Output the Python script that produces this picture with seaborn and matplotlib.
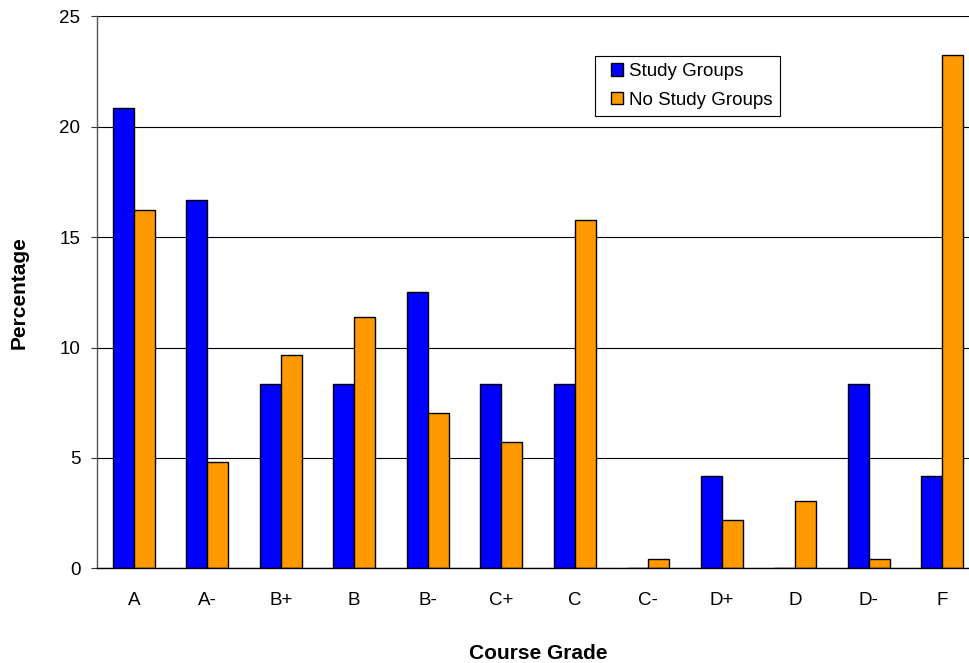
import pandas as pd
import matplotlib
matplotlib.use("Agg")
import matplotlib.pyplot as plt
import matplotlib.patches as mpatches
from matplotlib.legend_handler import HandlerPatch
import seaborn as sns

# values
grades = ["A", "A-", "B+", "B", "B-", "C+", "C", "C-", "D+", "D", "D-", "F"]
study_groups = [20.83, 16.67, 8.33, 8.33, 12.5, 8.33, 8.33, 0.0, 4.17, 0.0, 8.33, 4.17]
no_study_groups = [16.24, 4.82, 9.64, 11.39, 7.02, 5.7, 15.77, 0.42, 2.17, 3.05, 0.42, 23.23]
series_names = ["Study Groups", "No Study Groups"]
colors = ["#0000FF", "#FF9900"]
y_ticks = [0, 5, 10, 15, 20, 25]

# long form table for seaborn
df = pd.DataFrame({
    "grade": grades * 2,
    "pct": study_groups + no_study_groups,
    "group": [series_names[0]] * len(grades) + [series_names[1]] * len(grades),
})

sns.set_theme(style="white")
plt.rcParams["font.family"] = ["Liberation Sans", "DejaVu Sans"]
plt.rcParams["text.color"] = "black"
plt.rcParams["axes.labelcolor"] = "black"
plt.rcParams["xtick.color"] = "black"
plt.rcParams["ytick.color"] = "black"


def square_right(legend, orig_handle, xdescent, ydescent, width, height, fontsize):
    # small square pushed to the right side of the handle box (extra left padding)
    return mpatches.Rectangle((width - height - xdescent, -ydescent), height, height)


fig = plt.figure(figsize=(9.69, 6.63), dpi=100)
ax = fig.add_axes([0.1001, 0.1428, 0.9102, 0.8326])

sns.barplot(data=df, x="grade", y="pct", hue="group", order=grades,
            hue_order=series_names, palette=colors, saturation=1,
            width=0.57, edgecolor="black", linewidth=1.0, ax=ax)

ax.set_ylim(0, 25)
ax.set_xlim(-0.5, len(grades) - 0.5)
ax.set_yticks(y_ticks)
ax.set_yticklabels([str(t) for t in y_ticks], fontsize=13.5)
ax.set_xticks(range(len(grades)))
ax.set_xticklabels(grades, fontsize=13.5)
ax.set_xticks([i - 0.5 for i in range(len(grades) + 1)], minor=True)
ax.tick_params(axis="x", which="major", length=0, pad=17)
ax.tick_params(axis="x", which="minor", length=4.3, width=0.8, color="black", direction="out")
ax.tick_params(axis="y", which="major", length=4.5, width=0.8, color="#333333",
               direction="out", left=True, pad=7.5)
ax.yaxis.grid(True, color="black", linewidth=0.8)
ax.set_axisbelow(True)

for side in ["top", "right"]:
    ax.spines[side].set_visible(False)
ax.spines["left"].set_color("#555555")
ax.spines["bottom"].set_color("black")
ax.spines["left"].set_linewidth(1.0)
ax.spines["bottom"].set_linewidth(1.0)

ax.set_xlabel("Course Grade", fontsize=15, fontweight="bold", labelpad=25)
ax.set_ylabel("Percentage", fontsize=15, fontweight="bold", labelpad=22)

handles, labels = ax.get_legend_handles_labels()
ax.legend(handles, labels, loc="upper left", bbox_to_anchor=(0.565, 0.9286),
          frameon=True, fancybox=False, shadow=False, edgecolor="black",
          framealpha=1, fontsize=13.5, handlelength=1.1, handleheight=0.64,
          handletextpad=0.27, borderpad=0.4, labelspacing=0.62, borderaxespad=0,
          handler_map={mpatches.Rectangle: HandlerPatch(patch_func=square_right)})
ax.get_legend().get_frame().set_linewidth(0.8)

fig.savefig("out.png", dpi=100)
